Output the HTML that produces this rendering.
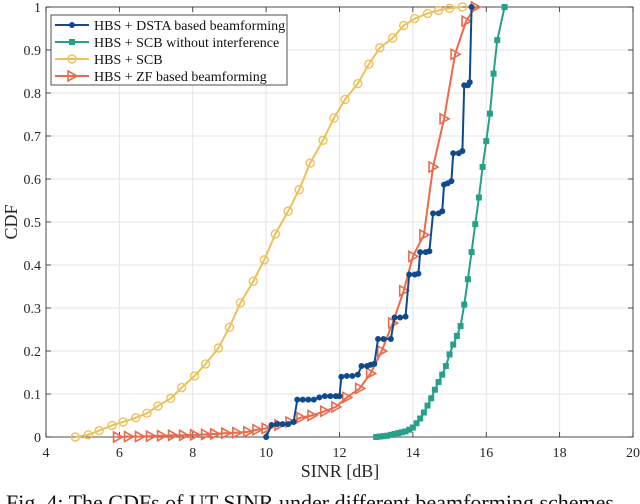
<!DOCTYPE html>
<html><head><meta charset="utf-8"><style>
body{margin:0;background:#fff;}
svg{display:block;font-family:"Liberation Serif",serif;}
</style></head><body>
<svg id="chart" width="640" height="504"></svg>
<script>
const xTicks=[4,6,8,10,12,14,16,18,20];
const yTicks=[0,0.1,0.2,0.3,0.4,0.5,0.6,0.7,0.8,0.9,1];
const yTickLabels=["0","0.1","0.2","0.3","0.4","0.5","0.6","0.7","0.8","0.9","1"];
const dstaX=[10.0,10.15,10.3,10.45,10.6,10.75,10.85,11.0,11.15,11.3,11.45,11.6,11.75,11.9,12.0,12.05,12.2,12.35,12.5,12.6,12.75,12.85,12.95,13.05,13.2,13.4,13.5,13.65,13.8,13.9,14.05,14.15,14.2,14.35,14.45,14.55,14.7,14.8,14.85,14.95,15.05,15.1,15.25,15.35,15.4,15.5,15.55,15.6];
const dstaY=[0,0.028,0.03,0.03,0.03,0.035,0.087,0.087,0.087,0.087,0.092,0.095,0.095,0.095,0.095,0.14,0.142,0.142,0.145,0.165,0.165,0.168,0.17,0.228,0.228,0.228,0.278,0.278,0.28,0.378,0.378,0.38,0.43,0.43,0.432,0.52,0.52,0.525,0.587,0.59,0.595,0.66,0.66,0.665,0.818,0.818,0.825,1.0];
const noIntX=[13.0,13.1,13.2,13.3,13.4,13.5,13.6,13.7,13.8,13.9,14.0,14.1,14.2,14.3,14.4,14.5,14.6,14.7,14.8,14.9,15.0,15.1,15.2,15.3,15.4,15.5,15.6,15.7,15.8,15.9,16.0,16.1,16.2,16.3,16.5];
const noIntY=[0,0.001,0.002,0.003,0.005,0.007,0.009,0.011,0.013,0.017,0.022,0.032,0.043,0.057,0.073,0.09,0.11,0.128,0.145,0.165,0.192,0.215,0.235,0.258,0.308,0.367,0.43,0.495,0.557,0.628,0.688,0.752,0.845,0.923,1.0];
const scbX=[4.8,5.15,5.45,5.8,6.1,6.45,6.75,7.05,7.4,7.7,8.05,8.35,8.7,9.0,9.3,9.65,9.95,10.25,10.6,10.9,11.2,11.55,11.85,12.15,12.5,12.8,13.1,13.45,13.75,14.05,14.4,14.7,15.0,15.35];
const scbY=[0,0.005,0.015,0.027,0.035,0.045,0.055,0.072,0.09,0.115,0.142,0.17,0.207,0.255,0.312,0.362,0.412,0.472,0.525,0.575,0.637,0.69,0.742,0.785,0.822,0.867,0.905,0.928,0.957,0.973,0.985,0.992,0.997,1.0];
const zfX=[5.95,6.25,6.55,6.85,7.15,7.45,7.75,8.05,8.35,8.6,8.9,9.2,9.5,9.75,10.0,10.35,10.65,10.95,11.25,11.6,11.9,12.2,12.55,12.85,13.15,13.45,13.75,14.0,14.3,14.55,14.85,15.15,15.45,15.7];
const zfY=[0,0.001,0.001,0.002,0.003,0.004,0.004,0.005,0.006,0.007,0.009,0.01,0.012,0.017,0.02,0.028,0.035,0.045,0.05,0.06,0.07,0.092,0.113,0.148,0.2,0.265,0.34,0.42,0.47,0.628,0.74,0.89,0.967,1.0];

const L=46,R=633,T=7,B=437;
const sx=v=>L+(v-4)/16*(R-L);
const sy=v=>B-v*(B-T);
const svg=document.getElementById('chart');
const NS='http://www.w3.org/2000/svg';
function el(tag,attrs,parent){const e=document.createElementNS(NS,tag);for(const k in attrs)e.setAttribute(k,attrs[k]);(parent||svg).appendChild(e);return e;}

xTicks.forEach(t=>{
  const g=el('line',{x1:sx(t),x2:sx(t),y1:T,y2:B,stroke:'#e3e3e3','stroke-width':1});
  
  
});
yTicks.forEach(t=>{
  const g=el('line',{x1:L,x2:R,y1:sy(t),y2:sy(t),stroke:'#e3e3e3','stroke-width':1});
  
  
});
const box=el('rect',{x:L,y:T,width:R-L,height:B-T,fill:'none',stroke:'#262626','stroke-width':0.8});


xTicks.forEach(t=>{
  el('line',{x1:sx(t),x2:sx(t),y1:B,y2:B-5,stroke:'#262626','stroke-width':0.8});
  el('line',{x1:sx(t),x2:sx(t),y1:T,y2:T+5,stroke:'#262626','stroke-width':0.8});
  const tx=el('text',{x:sx(t),y:B+20,'text-anchor':'middle','font-size':14,fill:'#262626'});
  tx.textContent=t;
  
  
});
yTicks.forEach((t,i)=>{
  el('line',{x1:L,x2:L+5,y1:sy(t),y2:sy(t),stroke:'#262626','stroke-width':0.8});
  el('line',{x1:R,x2:R-5,y1:sy(t),y2:sy(t),stroke:'#262626','stroke-width':0.8});
  const tx=el('text',{x:L-5,y:sy(t)+5,'text-anchor':'end','font-size':14,fill:'#262626'});
  tx.textContent=yTickLabels[i];
  
  
});
const xt=el('text',{x:340,y:477,'text-anchor':'middle','font-size':18,fill:'#262626'});
xt.textContent='SINR [dB]';


const yt=el('text',{x:0,y:0,'text-anchor':'middle','font-size':18,fill:'#262626',transform:'translate(17,222) rotate(-90)'});
yt.textContent='CDF';



function marker(kind,x,y,color,parent){
  if(kind==='dot') return el('circle',{cx:x,cy:y,r:3,fill:color},parent);
  if(kind==='square') return el('rect',{x:x-3,y:y-3,width:6,height:6,fill:color},parent);
  if(kind==='circle') return el('circle',{cx:x,cy:y,r:4,fill:'none',stroke:color,'stroke-width':1.4},parent);
  return el('path',{d:`M${x-4},${y-5}L${x+5},${y}L${x-4},${y+5}Z`,fill:'none',stroke:color,'stroke-width':1.6},parent);
}
function series(xs,ys,color,kind,name){
  const g=el('g',{});
  
  
  el('polyline',{points:xs.map((x,i)=>sx(x)+','+sy(ys[i])).join(' '),fill:'none',stroke:color,'stroke-width':2},g);
  xs.forEach((x,i)=>marker(kind,sx(x),sy(ys[i]),color,g));
}
series(scbX,scbY,'#edc15a','circle','series-hbs-scb');
series(noIntX,noIntY,'#26a08a','square','series-scb-no-interference');
series(zfX,zfY,'#ec6a4a','tri','series-zf-beamforming');
series(dstaX,dstaY,'#0e4a8c','dot','series-dsta-beamforming');

const lg=el('g',{});


el('rect',{x:51,y:15,width:236,height:70,fill:'#fff',stroke:'#262626','stroke-width':0.8},lg);
const names=['HBS + DSTA based beamforming','HBS + SCB without interference','HBS + SCB','HBS + ZF based beamforming'];
const cols=['#0e4a8c','#26a08a','#edc15a','#ec6a4a'];
const kinds=['dot','square','circle','tri'];
names.forEach((n,i)=>{
  const y=25+i*17;
  const e=el('g',{},lg);
  
  
  el('line',{x1:55,x2:89,y1:y,y2:y,stroke:cols[i],'stroke-width':2},e);
  marker(kinds[i],72,y,cols[i],e);
  const t=el('text',{x:94,y:y+5,'font-size':14,fill:'#111'},e);
  t.textContent=n;
});
const cap=el('text',{x:6,y:510,'font-size':22,fill:'#111'});
cap.textContent='Fig. 4: The CDFs of UT SINR under different beamforming schemes.';


</script>
</body></html>
